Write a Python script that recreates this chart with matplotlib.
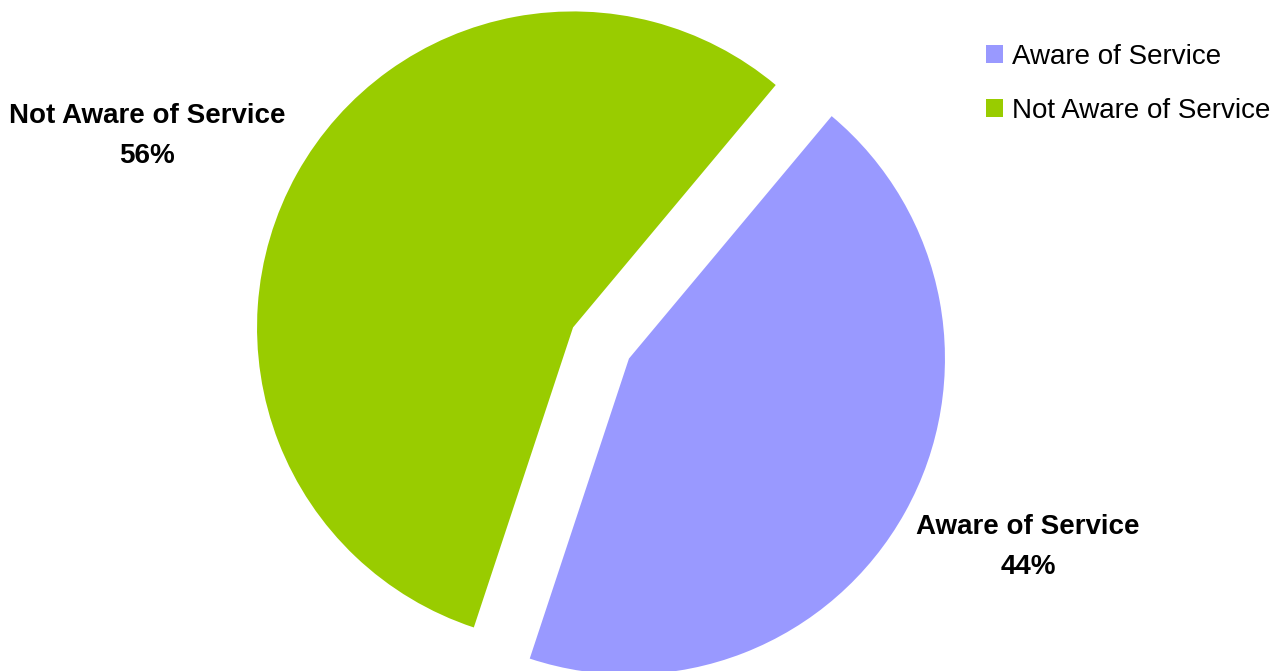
import matplotlib
matplotlib.use("Agg")
import matplotlib.pyplot as plt
from matplotlib.patches import Patch

labels = ["Aware of Service", "Not Aware of Service"]
shares = [44, 56]
colors = ["#9999FF", "#99CC00"]

plt.rcParams["font.family"] = ["Liberation Sans", "DejaVu Sans"]

fig = plt.figure(figsize=(12.8, 6.71), dpi=100)
ax = fig.add_axes([0, 0, 1, 1])

# axes in pixel units, so explode offsets are in pixels too
wedges, _ = ax.pie(
    shares,
    colors=colors,
    startangle=251.7,
    counterclock=True,
    explode=[32, 32],
    center=(601, 328),
    radius=316,
    wedgeprops=dict(linewidth=0),
    frame=True,
)
ax.set_xlim(0, 1280)
ax.set_ylim(0, 671)
ax.axis("off")

# slice labels with percentage
label_pos = {"Aware of Service": (1028, 124), "Not Aware of Service": (147, 535)}
for name, val in zip(labels, shares):
    x, y = label_pos[name]
    ax.text(x, y, f"{name}\n{val}%", ha="center", va="center",
            fontsize=20, fontweight="bold", linespacing=1.72)

handles = [Patch(facecolor=c, edgecolor="none") for c in colors]
fig.legend(handles, labels, loc="upper left", bbox_to_anchor=(986 / 1280, 1 - 44 / 671),
           frameon=False, fontsize=20, handlelength=0.62, handleheight=0.62,
           handletextpad=0.3, labelspacing=1.0, borderaxespad=0, borderpad=0)

fig.savefig("out.png", dpi=100)
